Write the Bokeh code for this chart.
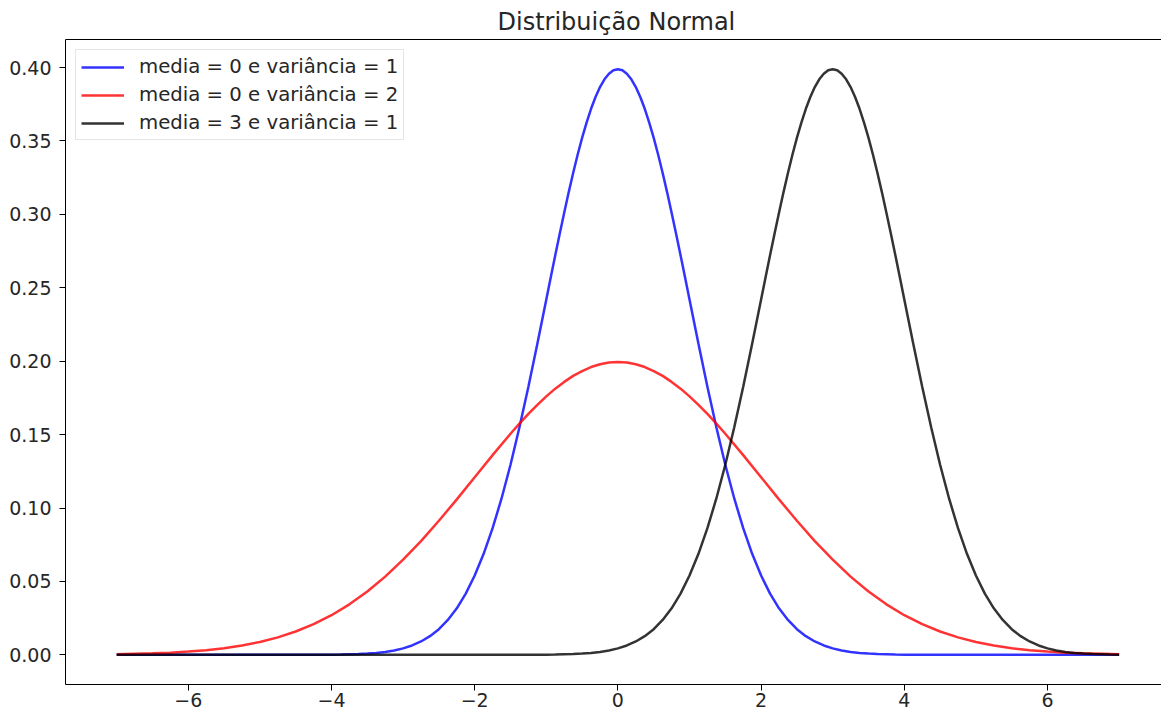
from bokeh.plotting import figure
from bokeh.models import (Range1d, LinearAxis, FixedTicker, NumeralTickFormatter,
                          CustomJSTickFormatter, Legend, LegendItem)
from bokeh.embed import file_html
from bokeh.resources import INLINE

# ---------------- data ----------------
title_text = "Distribuição Normal"
series_labels = ["media = 0 e variância = 1",
                 "media = 0 e variância = 2",
                 "media = 3 e variância = 1"]

x_blue = [-7.0, -6.0, -5.0, -4.5,
          -4.0, -3.875, -3.75, -3.625, -3.5, -3.375, -3.25, -3.125, -3.0, -2.875, -2.75, -2.625,
          -2.5, -2.375, -2.25, -2.125, -2.0, -1.875, -1.75, -1.625, -1.5, -1.375, -1.25, -1.125,
          -1.0, -0.9375, -0.875, -0.8125, -0.75, -0.6875, -0.625, -0.5625, -0.5, -0.4375, -0.375,
          -0.3125, -0.25, -0.1875, -0.125, -0.0625, 0.0, 0.0625, 0.125, 0.1875, 0.25, 0.3125,
          0.375, 0.4375, 0.5, 0.5625, 0.625, 0.6875, 0.75, 0.8125, 0.875, 0.9375, 1.0,
          1.125, 1.25, 1.375, 1.5, 1.625, 1.75, 1.875, 2.0, 2.125, 2.25, 2.375, 2.5,
          2.625, 2.75, 2.875, 3.0, 3.125, 3.25, 3.375, 3.5, 3.625, 3.75, 3.875, 4.0,
          4.5, 5.0, 6.0, 7.0]
y_blue = [0.0, 0.0, 0.0, 0.0,
          0.0001, 0.0002, 0.0004, 0.0006, 0.0009, 0.0013, 0.0020, 0.0030, 0.0044, 0.0064, 0.0091, 0.0127,
          0.0175, 0.0238, 0.0317, 0.0417, 0.0540, 0.0688, 0.0863, 0.1065, 0.1295, 0.1550, 0.1826, 0.2119,
          0.2420, 0.2571, 0.2721, 0.2868, 0.3011, 0.3150, 0.3282, 0.3406, 0.3521, 0.3625, 0.3719,
          0.3799, 0.3867, 0.3920, 0.3958, 0.3982, 0.3989, 0.3982, 0.3958, 0.3920, 0.3867, 0.3799,
          0.3719, 0.3625, 0.3521, 0.3406, 0.3282, 0.3150, 0.3011, 0.2868, 0.2721, 0.2571, 0.2420,
          0.2119, 0.1826, 0.1550, 0.1295, 0.1065, 0.0863, 0.0688, 0.0540, 0.0417, 0.0317, 0.0238, 0.0175,
          0.0127, 0.0091, 0.0064, 0.0044, 0.0030, 0.0020, 0.0013, 0.0009, 0.0006, 0.0004, 0.0002, 0.0001,
          0.0, 0.0, 0.0, 0.0]

x_red = [-7.0, -6.75, -6.5, -6.25, -6.0, -5.75, -5.5, -5.25, -5.0, -4.75, -4.5, -4.25,
         -4.0, -3.75, -3.5, -3.25, -3.0, -2.75, -2.5, -2.25, -2.0, -1.75,
         -1.5, -1.375, -1.25, -1.125, -1.0, -0.875, -0.75, -0.625, -0.5, -0.375, -0.25, -0.125,
         0.0, 0.125, 0.25, 0.375, 0.5, 0.625, 0.75, 0.875, 1.0, 1.125, 1.25, 1.375, 1.5,
         1.75, 2.0, 2.25, 2.5, 2.75, 3.0, 3.25, 3.5, 3.75, 4.0, 4.25, 4.5, 4.75,
         5.0, 5.25, 5.5, 5.75, 6.0, 6.25, 6.5, 6.75, 7.0]
y_red = [0.0004, 0.0007, 0.0010, 0.0015, 0.0022, 0.0032, 0.0045, 0.0064, 0.0088, 0.0119, 0.0159, 0.0209,
         0.0270, 0.0344, 0.0431, 0.0533, 0.0648, 0.0775, 0.0913, 0.1059, 0.1210, 0.1360,
         0.1506, 0.1575, 0.1641, 0.1703, 0.1760, 0.1813, 0.1859, 0.1900, 0.1933, 0.1960, 0.1979, 0.1991,
         0.1995, 0.1991, 0.1979, 0.1960, 0.1933, 0.1900, 0.1859, 0.1813, 0.1760, 0.1703, 0.1641, 0.1575, 0.1506,
         0.1360, 0.1210, 0.1059, 0.0913, 0.0775, 0.0648, 0.0533, 0.0431, 0.0344, 0.0270, 0.0209, 0.0159,
         0.0119, 0.0088, 0.0064, 0.0045, 0.0032, 0.0022, 0.0015, 0.0010, 0.0007, 0.0004]

x_black = [-7.0, -6.0, -5.0, -4.0, -3.0, -2.0, -1.5,
           -1.0, -0.875, -0.75, -0.625, -0.5, -0.375, -0.25, -0.125, 0.0, 0.125, 0.25, 0.375,
           0.5, 0.625, 0.75, 0.875, 1.0, 1.125, 1.25, 1.375, 1.5, 1.625, 1.75, 1.875,
           2.0, 2.0625, 2.125, 2.1875, 2.25, 2.3125, 2.375, 2.4375, 2.5, 2.5625, 2.625,
           2.6875, 2.75, 2.8125, 2.875, 2.9375, 3.0, 3.0625, 3.125, 3.1875, 3.25, 3.3125,
           3.375, 3.4375, 3.5, 3.5625, 3.625, 3.6875, 3.75, 3.8125, 3.875, 3.9375, 4.0,
           4.125, 4.25, 4.375, 4.5, 4.625, 4.75, 4.875, 5.0, 5.125, 5.25, 5.375, 5.5,
           5.625, 5.75, 5.875, 6.0, 6.125, 6.25, 6.375, 6.5, 6.625, 6.75, 6.875, 7.0]
y_black = [0.0, 0.0, 0.0, 0.0, 0.0, 0.0, 0.0,
           0.0001, 0.0002, 0.0004, 0.0006, 0.0009, 0.0013, 0.0020, 0.0030, 0.0044, 0.0064, 0.0091, 0.0127,
           0.0175, 0.0238, 0.0317, 0.0417, 0.0540, 0.0688, 0.0863, 0.1065, 0.1295, 0.1550, 0.1826, 0.2119,
           0.2420, 0.2571, 0.2721, 0.2868, 0.3011, 0.3150, 0.3282, 0.3406, 0.3521, 0.3625, 0.3719,
           0.3799, 0.3867, 0.3920, 0.3958, 0.3982, 0.3989, 0.3982, 0.3958, 0.3920, 0.3867, 0.3799,
           0.3719, 0.3625, 0.3521, 0.3406, 0.3282, 0.3150, 0.3011, 0.2868, 0.2721, 0.2571, 0.2420,
           0.2119, 0.1826, 0.1550, 0.1295, 0.1065, 0.0863, 0.0688, 0.0540, 0.0417, 0.0317, 0.0238, 0.0175,
           0.0127, 0.0091, 0.0064, 0.0044, 0.0030, 0.0020, 0.0013, 0.0009, 0.0006, 0.0004, 0.0002, 0.0001]

x_ticks = [-6, -4, -2, 0, 2, 4, 6]
y_ticks = [0.0, 0.05, 0.10, 0.15, 0.20, 0.25, 0.30, 0.35, 0.40]

colors = ["#0000ff", "#ff0000", "#000000"]

FONT = "DejaVu Sans"
TXT = "#262626"

# ---------------- figure ----------------
p = figure(width=1161, height=717, output_backend="svg", toolbar_location=None,
           x_range=Range1d(-7.715, 7.592), y_range=Range1d(-0.0202, 0.4191),
           min_border_left=65, min_border_right=0, min_border_top=39, min_border_bottom=33)
p.outline_line_color = None
p.grid.visible = False
p.background_fill_color = "white"
p.border_fill_color = "white"

p.title.text = title_text
p.title.align = "left"
p.title.offset = 432
p.title.text_font = FONT
p.title.text_font_size = "24px"
p.title.text_font_style = "normal"
p.title.text_color = TXT
p.title.standoff = 8

for ax in (p.xaxis[0], p.yaxis[0]):
    ax.axis_line_color = "black"
    ax.axis_line_width = 1
    ax.major_tick_line_color = "black"
    ax.major_tick_out = 6
    ax.major_tick_in = 0
    ax.minor_tick_line_color = None
    ax.major_label_text_font = FONT
    ax.major_label_text_font_size = "19px"
    ax.major_label_text_color = TXT

p.xaxis[0].ticker = FixedTicker(ticks=x_ticks)
p.xaxis[0].formatter = CustomJSTickFormatter(
    code="return (tick < 0 ? '\u2212' : '') + Math.abs(tick).toFixed(0);")
p.xaxis[0].major_label_standoff = 2

p.yaxis[0].ticker = FixedTicker(ticks=y_ticks)
p.yaxis[0].formatter = NumeralTickFormatter(format="0.00")
p.yaxis[0].major_label_standoff = 8

# top spine
top_axis = LinearAxis(ticker=FixedTicker(ticks=[]), axis_line_color="black", axis_line_width=1,
                      major_tick_line_color=None, minor_tick_line_color=None,
                      major_label_text_font_size="0px", major_tick_out=0, major_tick_in=0)
p.add_layout(top_axis, "above")

r_blue = p.line(x_blue, y_blue, line_color=colors[0], line_width=2.5, line_alpha=0.8)
r_red = p.line(x_red, y_red, line_color=colors[1], line_width=2.5, line_alpha=0.8)
r_black = p.line(x_black, y_black, line_color=colors[2], line_width=2.5, line_alpha=0.8)

legend = Legend(items=[LegendItem(label=series_labels[0], renderers=[r_blue]),
                       LegendItem(label=series_labels[1], renderers=[r_red]),
                       LegendItem(label=series_labels[2], renderers=[r_black])],
                location="top_left", margin=10, padding=5, spacing=5,
                glyph_width=43, glyph_height=20, label_height=20, label_standoff=15,
                label_text_font=FONT, label_text_font_size="19.7px", label_text_color=TXT,
                border_line_color="#cccccc", border_line_width=1,
                background_fill_color="white", background_fill_alpha=0.8)
p.add_layout(legend)

open("out.html", "w").write(file_html(p, INLINE))
